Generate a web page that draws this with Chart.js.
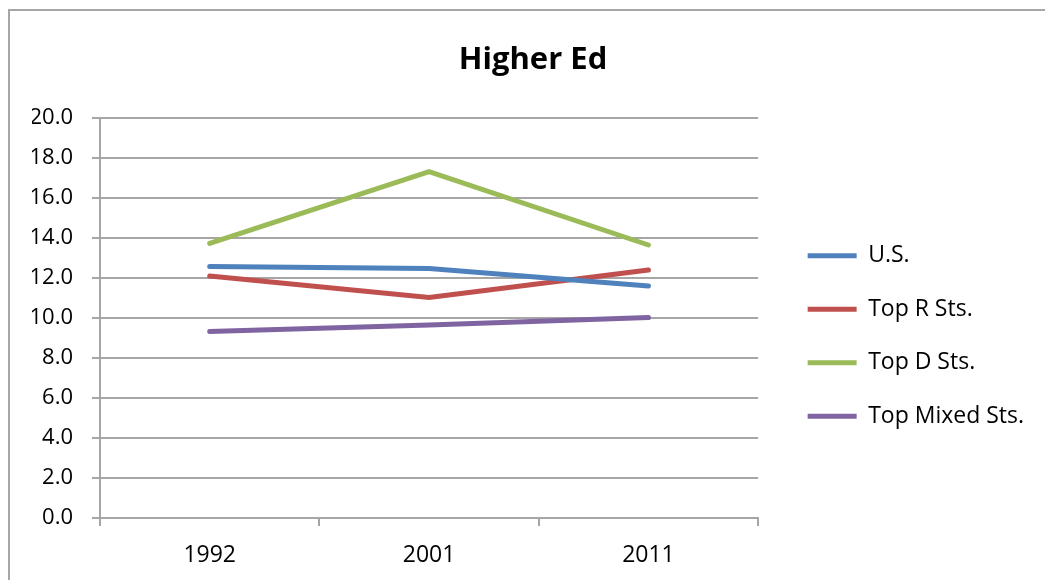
<!DOCTYPE html>
<html>
<head>
<meta charset="utf-8">
<script src="https://cdn.jsdelivr.net/npm/chart.js@4/dist/chart.umd.min.js"></script>
<style>
  html, body { margin: 0; padding: 0; background: #fff; overflow: hidden; }
  #wrap { position: relative; width: 1045px; height: 580px; }
  #frame { position: absolute; left: 8px; top: 9px; width: 2000px; height: 2000px;
           border-left: 2px solid #a6a6a6; border-top: 2px solid #a6a6a6; pointer-events: none; }
  canvas { position: absolute; left: 0; top: 0; }
</style>
</head>
<body>
<div id="wrap">
  <canvas id="c" width="1045" height="580"></canvas>
  <div id="frame"></div>
</div>
<script>
const categories = ['1992', '2001', '2011'];
const seriesNames = ['U.S.', 'Top R Sts.', 'Top D Sts.', 'Top Mixed Sts.'];
const usValues = [12.57, 12.48, 11.6];
const topRValues = [12.1, 11.03, 12.4];
const topDValues = [13.73, 17.32, 13.65];
const topMixedValues = [9.32, 9.65, 10.02];
const yTickValues = [0, 2, 4, 6, 8, 10, 12, 14, 16, 18, 20];

const colors = ['#4F81BD', '#C0504D', '#9BBB59', '#8064A2'];
const allValues = [usValues, topRValues, topDValues, topMixedValues];
const FONT = "'Open Sans', sans-serif";

const datasets = allValues.map((vals, i) => ({
  label: seriesNames[i],
  data: vals,
  borderColor: colors[i],
  backgroundColor: colors[i],
  borderWidth: 5,
  borderCapStyle: 'round',
  pointRadius: 0,
  pointHoverRadius: 0,
  tension: 0,
  fill: false
}));

new Chart(document.getElementById('c'), {
  type: 'line',
  data: { labels: categories, datasets },
  options: {
    responsive: false,
    animation: false,
    devicePixelRatio: 1,
    layout: { padding: { top: 10, left: 32, right: 11, bottom: 0 } },
    plugins: {
      title: {
        display: true,
        text: 'Higher Ed',
        color: '#000',
        font: { family: FONT, size: 31, weight: 'bold' },
        padding: { top: 32, bottom: 38.8 }
      },
      legend: {
        display: true,
        position: 'right',
        fullSize: false,
        align: 'center',
        maxWidth: 400,
        title: { display: true, text: ' ', font: { size: 10 }, padding: { top: 0, bottom: 24 } },
        labels: {
          usePointStyle: true,
          pointStyle: 'line',
          pointStyleWidth: 49,
          boxHeight: 5,
          padding: 30.5,
          color: '#000',
          font: { family: FONT, size: 23 }
        }
      },
      tooltip: { enabled: false }
    },
    scales: {
      x: {
        type: 'category',
        offset: true,
        grid: { display: true, offset: true, drawOnChartArea: false, drawTicks: true, tickLength: 8, color: '#a6a6a6', lineWidth: 2 },
        border: { display: true, color: '#a6a6a6', width: 2 },
        ticks: { color: '#000', font: { family: FONT, size: 23 }, padding: 16, maxRotation: 0 },
        afterFit: s => { s.height = 62; }
      },
      y: {
        min: 0,
        max: 20,
        afterBuildTicks: s => { s.ticks = yTickValues.map(v => ({ value: v })); },
        grid: { display: true, drawTicks: true, tickLength: 8, color: '#a6a6a6', lineWidth: 2 },
        border: { display: true, color: '#a6a6a6', width: 2 },
        ticks: { color: '#000', font: { family: FONT, size: 22 }, padding: 19, callback: v => Number(v).toFixed(1) },
        afterFit: s => { s.width = 68; }
      },
      gap: {
        position: 'right',
        display: true,
        grid: { display: false, drawTicks: false },
        border: { display: false },
        ticks: { display: false },
        afterFit: s => { s.width = 19; }
      }
    }
  }
});
</script>
</body>
</html>
